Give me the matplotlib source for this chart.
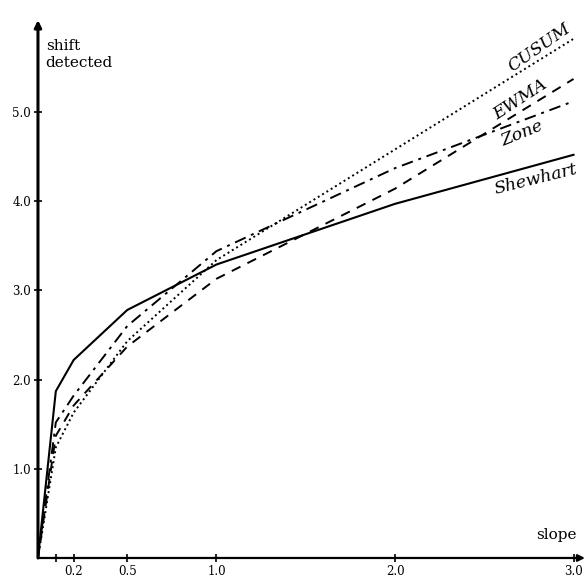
import numpy as np
import matplotlib.pyplot as plt

# slope values (x) and shift detected for each chart
slope = [0.0, 0.1, 0.2, 0.5, 1.0, 2.0, 3.0]
shewhart = [0.0, 1.87, 2.22, 2.78, 3.29, 3.97, 4.52]
zone = [0.0, 1.52, 1.82, 2.60, 3.44, 4.37, 5.12]
ewma = [0.0, 1.37, 1.71, 2.37, 3.13, 4.14, 5.37]
cusum = [0.0, 1.24, 1.63, 2.43, 3.34, 4.58, 5.82]

xticks = [0.1, 0.2, 0.5, 1.0, 2.0, 3.0]
xtick_labels = ['', '0.2', '0.5', '1.0', '2.0', '3.0']
yticks = [1.0, 2.0, 3.0, 4.0, 5.0]
ytick_labels = ['1.0', '2.0', '3.0', '4.0', '5.0']

plt.rcParams['font.family'] = ['DejaVu Serif']

fig = plt.figure(figsize=(5.86, 5.79), dpi=100)
ax = fig.add_axes([0.0648, 0.0363, 0.9334, 0.9290])
ax.set_xlim(0, 3.064)
ax.set_ylim(0, 6.03)

ax.plot(slope, shewhart, color='black', lw=1.5, ls='-')
ax.plot(slope, zone, color='black', lw=1.4, ls=(0, (6, 3, 1.5, 3)))
ax.plot(slope, ewma, color='black', lw=1.4, ls=(0, (5, 4)))
ax.plot(slope, cusum, color='black', lw=1.4, ls=(0, (1, 1.6)))

for s in ax.spines.values():
    s.set_visible(False)

# axes with arrow heads
ax.annotate('', xy=(1, 0), xytext=(0, 0), xycoords='axes fraction',
            arrowprops=dict(arrowstyle='-|>', lw=1.6, color='black',
                            mutation_scale=10, shrinkA=0, shrinkB=0))
ax.annotate('', xy=(0, 1), xytext=(0, 0), xycoords='axes fraction',
            arrowprops=dict(arrowstyle='-|>', lw=2.2, color='black',
                            mutation_scale=10, shrinkA=0, shrinkB=0))

ax.set_xticks(xticks)
ax.set_xticklabels(xtick_labels)
ax.set_yticks(yticks)
ax.set_yticklabels(ytick_labels)
ax.tick_params(direction='inout', length=6, width=1.2, labelsize=8.5, pad=2)

ax.text(0.014, 0.965, 'shift\ndetected', transform=ax.transAxes, fontsize=11,
        va='top', ha='left', linespacing=1.3)
ax.text(0.985, 0.03, 'slope', transform=ax.transAxes, fontsize=11,
        va='bottom', ha='right')

ax.text(2.81, 5.72, 'CUSUM', fontsize=12.5, style='italic', rotation=35,
        ha='center', va='center')
ax.text(2.70, 5.14, 'EWMA', fontsize=12.5, style='italic', rotation=33,
        ha='center', va='center')
ax.text(2.71, 4.76, 'Zone', fontsize=12.5, style='italic', rotation=22,
        ha='center', va='center')
ax.text(2.79, 4.25, 'Shewhart', fontsize=12.5, style='italic', rotation=14,
        ha='center', va='center')

fig.savefig('out.png', dpi=100)
